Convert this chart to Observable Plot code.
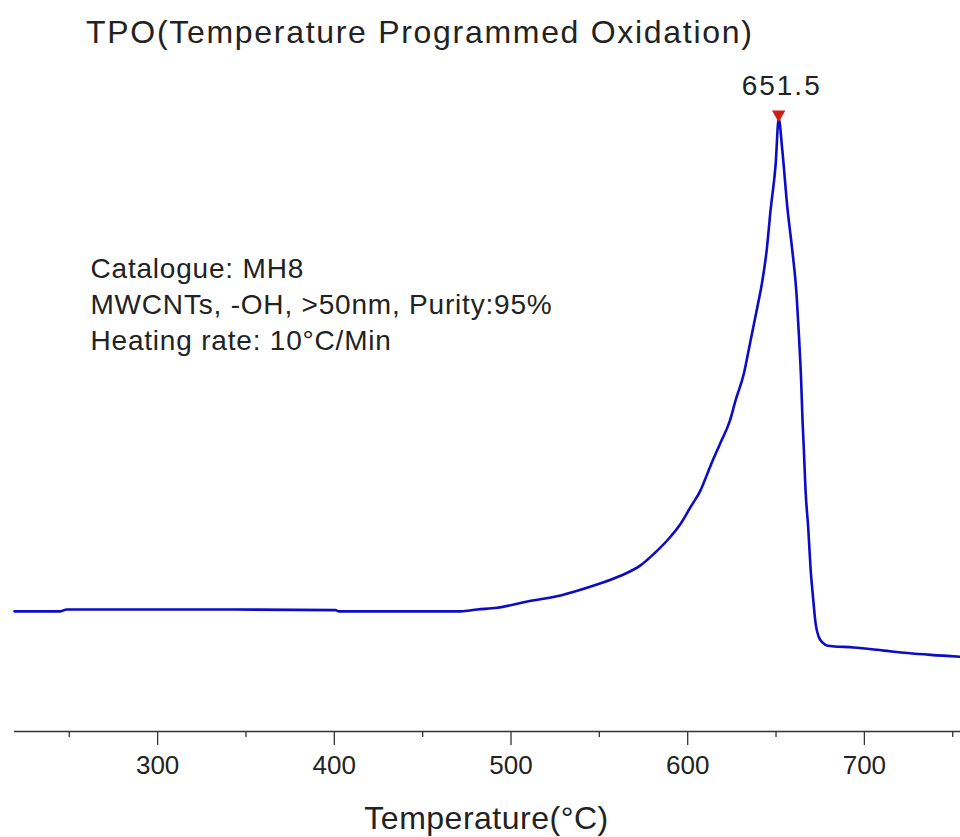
<!DOCTYPE html>
<html>
<head>
<meta charset="utf-8">
<script src="https://cdn.jsdelivr.net/npm/d3@7"></script>
<script src="https://cdn.jsdelivr.net/npm/@observablehq/plot@0.6"></script>
<style>
  html, body { margin: 0; padding: 0; background: #fff; }
  #title {
    height: 60px; box-sizing: border-box; padding-top: 5px; padding-left: 86px;
    line-height: 54px; font-family: 'Liberation Sans', Arial, sans-serif;
    font-size: 32px; letter-spacing: 1.7px; color: #222; white-space: nowrap;
  }
</style>
</head>
<body>
<div id="title">TPO(Temperature Programmed Oxidation)</div>
<div id="chart"></div>
<script>
// Temperature (°C) and TPO signal (a.u., peak normalised to 100)
const temperature = [219, 245, 248.5, 324, 400.7, 402.4, 471.5, 480.9, 492.2, 509.2, 528.1, 546.9, 562.0, 573.3, 580.9, 588.5, 596.0, 601.6, 607.2, 612.7, 618.4, 623.9, 627.1, 631.8, 635.6, 639.4, 642.2, 644.7, 646.9, 649.8, 651.5, 653.5, 656.4, 659.2, 661.6, 662.9, 664.2, 665.0, 665.7, 666.7, 668.2, 669.5, 671.1, 672.4, 674.1, 676.4, 679.2, 693.9, 710.9, 724.4, 737.5, 754.4];
const signal = [19.6, 19.6, 19.9, 19.9, 19.8, 19.6, 19.6, 19.9, 20.2, 21.2, 22.2, 23.8, 25.4, 27.1, 29.0, 31.2, 33.9, 36.6, 39.3, 43.2, 47.0, 50.7, 54.0, 58.4, 63.8, 69.2, 73.4, 78.5, 85.0, 92.6, 100, 95.0, 85.5, 78.5, 71.4, 64.9, 57.3, 50.7, 46.3, 39.3, 33.3, 26.8, 21.4, 17.6, 15.5, 14.5, 14.0, 13.7, 13.2, 12.8, 12.5, 12.2];
const peakTemperature = [651.5];
const peakSignal = [100];
const majorTicks = [300, 400, 500, 600, 700];
const minorTicks = [250, 350, 450, 550, 650, 750];
const xDomain = [219, 754.4];
const noteLines = ["Catalogue: MH8", "MWCNTs, -OH, >50nm, Purity:95%", "Heating rate: 10°C/Min"];
const xLabel = "Temperature(°C)";

const data = temperature.map((t, i) => ({t, s: signal[i]}));
const peaks = peakTemperature.map((t, i) => ({t, s: peakSignal[i]}));

const chart = Plot.plot({
  width: 960,
  height: 777,
  marginLeft: 14,
  marginRight: 0,
  marginTop: 58,
  marginBottom: 106,
  style: {fontFamily: "'Liberation Sans', Arial, sans-serif", color: "#222", background: "#fff", overflow: "visible"},
  x: {domain: xDomain, label: null},
  y: {domain: [0, 100], axis: null},
  marks: [
    Plot.ruleY([0], {stroke: "#333", strokeWidth: 1.6}),
    Plot.axisX({ticks: minorTicks, tickSize: 6, text: null, stroke: "#333", strokeWidth: 1.3, label: null}),
    Plot.axisX({ticks: majorTicks, tickSize: 14, tickPadding: 10, fontSize: 26, stroke: "#333", strokeWidth: 1.3, fill: "#222", label: null, tickFormat: d => String(d)}),
    Plot.line(data, {x: "t", y: "s", stroke: "#0b0bc8", strokeWidth: 2.6, curve: "monotone-x"}),
    Plot.dot(peaks, {x: "t", y: "s", symbol: "triangle", rotate: 180, r: 5, fill: "#cc1f1f", stroke: "none", dy: -4}),
    Plot.text(peaks, {x: "t", y: "s", text: d => d.t.toFixed(1), fontSize: 28, lineAnchor: "top", dy: -43, dx: 3, fill: "#222", className: "peaklabel"}),
    Plot.text([noteLines.join("\n")], {frameAnchor: "top-left", textAnchor: "start", lineAnchor: "top", fontSize: 28, lineHeight: 1.28, dx: 76, dy: 134, fill: "#222", className: "note"}),
    Plot.text([xLabel], {frameAnchor: "bottom", lineAnchor: "top", fontSize: 32, dx: -1, dy: 75, fill: "#222", className: "xlabel"})
  ]
});
d3.select(chart).selectAll(".peaklabel text").style("letter-spacing", "2px");
d3.select(chart).selectAll(".note text").style("letter-spacing", "0.8px");
d3.select(chart).selectAll(".xlabel text").style("letter-spacing", "0.5px");
document.getElementById("chart").appendChild(chart);
</script>
</body>
</html>
